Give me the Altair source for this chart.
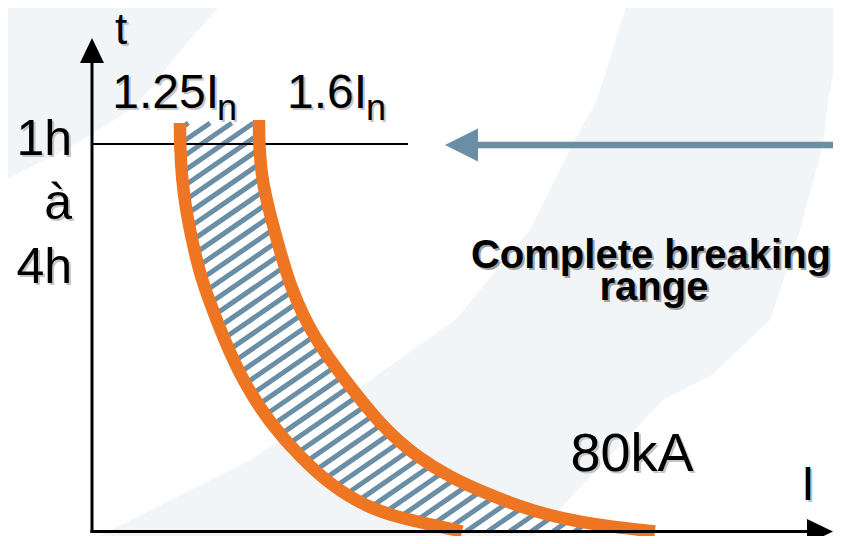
import altair as alt
import numpy as np
import pandas as pd

# ---------------- data (schematic units: x = current, y = time, origin at axes corner) ----
# 1.25 In characteristic (top -> bottom)
left_x = [88, 88, 90, 94, 100, 107, 114, 132, 153, 178, 208, 241, 275, 308, 341, 370]
left_y = [408.5, 387.5, 351.5, 321.5, 291.5, 261.5, 239.5, 191.5, 146.5, 108.5, 74.5, 44.5, 24.5, 13.5, 6.5, 0]
# 1.6 In characteristic
right_x = [167, 167, 170, 177, 185, 199, 223, 253, 291, 325, 358, 391, 421, 455, 488, 521, 563]
right_y = [411.5, 387.5, 351.5, 321.5, 291.5, 241.5, 191.5, 151.5, 103.5, 74.5, 54.5, 39.5, 27.5, 16.5, 9.5, 4.5, 0]

band_top = 408.5          # flat top of the hatched band
one_hour_y = 387.5        # level of the "1h" line
one_hour_x_end = 316

# decorative background swoosh: left edge (x, y) and right edge (x, y), bottom -> top
swoosh_lx = [-9, 158, 251, 285, 363, 438, 480, 505, 536]
swoosh_ly = [-12.5, 71.5, 131.5, 156.5, 211.5, 301.5, 386.5, 431.5, 531.5]
swoosh_rx = [435, 514, 571, 620, 678, 708, 731, 736, 756]
swoosh_ry = [-12.5, 71.5, 131.5, 156.5, 211.5, 301.5, 386.5, 431.5, 531.5]
# decorative top-left disc edge
disc_x = [-100, -92, -47, -2, 48, 95, 133, 140]
disc_y = [340, 346.5, 371.5, 396.5, 431.5, 488.5, 531.5, 540]

ORANGE = "#ee7622"
STEEL = "#6b8ea7"
LIGHT = "#f2f5f8"
FONT = "Liberation Sans"

xs = alt.Scale(domain=[-84, 741], nice=False, zero=False)
ys = alt.Scale(domain=[-4.5, 523.5], nice=False, zero=False)


def X(f="x"):
    return alt.X(f"{f}:Q", scale=xs, axis=None)


def Y(f="y"):
    return alt.Y(f"{f}:Q", scale=ys, axis=None)


# ---------------- background ----------------
xg = np.linspace(-9, 756, 600)
sw = pd.DataFrame({"x": xg,
                   "y": np.interp(xg, swoosh_rx, swoosh_ry),
                   "y2": np.interp(xg, swoosh_lx, swoosh_ly)})
swoosh = alt.Chart(sw).mark_area(color=LIGHT).encode(x=X(), y=Y(), y2=alt.Y2("y2:Q"))

dk = pd.DataFrame({"x": disc_x, "y": disc_y, "y2": [560] * len(disc_x)})
disc = alt.Chart(dk).mark_area(color=LIGHT, interpolate="monotone").encode(
    x=X(), y=Y(), y2=alt.Y2("y2:Q"))

# ---------------- band between the curves (white under the hatch) ----------------
bx = np.linspace(min(left_x), max(right_x), 700)
lower = np.clip(np.interp(bx, left_x, left_y), 0, band_top)
upper = np.minimum(np.interp(bx, right_x, right_y), band_top)
fill = pd.DataFrame({"x": bx, "y": lower, "y2": np.maximum(upper, lower)})
band = alt.Chart(fill).mark_area(color="white").encode(x=X(), y=Y(), y2=alt.Y2("y2:Q"))

# hatch stripes clipped to the band
ly = np.array(left_y[::-1], float); lx = np.array(left_x[::-1], float)
ry = np.array(right_y[::-1], float); rx = np.array(right_x[::-1], float)
m, sp, c0 = 0.69, 15.0, 177.0
yg = np.linspace(0, band_top, 4000)
gL = yg - m * np.interp(yg, ly, lx)
gR = yg - m * np.interp(yg, ry, rx)
rows = []
k0 = int(np.floor((gR.min() - c0) / sp)) - 1
k1 = int(np.ceil((gL.max() - c0) / sp)) + 1
for k in range(k0, k1 + 1):
    c = c0 + k * sp
    ya = float(np.interp(c, gL, yg))
    yb = float(np.interp(c, gR, yg))
    if yb - ya > 0.5:
        rows.append({"x": (ya - c) / m, "y": ya, "x2": (yb - c) / m, "y2": yb})
hatch = alt.Chart(pd.DataFrame(rows)).mark_rule(color=STEEL, strokeWidth=5, strokeCap="butt").encode(
    x=X(), y=Y(), x2=alt.X2("x2:Q"), y2=alt.Y2("y2:Q"))

# ---------------- 1h line ----------------
hl = pd.DataFrame({"x": [0], "x2": [one_hour_x_end], "y": [one_hour_y]})
hour_line = alt.Chart(hl).mark_rule(color="black", strokeWidth=2).encode(
    x=X(), x2=alt.X2("x2:Q"), y=Y())

# ---------------- curves ----------------
curves = pd.concat([
    pd.DataFrame({"x": left_x, "y": left_y, "curve": "1.25In", "i": range(len(left_x))}),
    pd.DataFrame({"x": right_x, "y": right_y, "curve": "1.6In", "i": range(len(right_x))}),
])
curve_lines = alt.Chart(curves).mark_line(color=ORANGE, strokeWidth=12.5, strokeCap="butt",
                                          interpolate="basis").encode(
    x=X(), y=Y(), detail="curve:N", order="i:Q")

# ---------------- axes ----------------
ax = pd.DataFrame({"x": [-1.5, 0], "y": [0, -1.5], "x2": [718, 0], "y2": [0, 472]})
axes = alt.Chart(ax).mark_rule(color="black", strokeWidth=3).encode(
    x=X(), y=Y(), x2=alt.X2("x2:Q"), y2=alt.Y2("y2:Q"))

heads = pd.DataFrame({"x": [0], "y": [481]})
yhead = alt.Chart(heads).mark_point(shape="M0,-1L0.96,1L-0.96,1Z", filled=True, size=625,
                                    color="black", opacity=1, strokeWidth=0).encode(x=X(), y=Y())
xh = pd.DataFrame({"x": [728], "y": [0]})
xhead = alt.Chart(xh).mark_point(shape="M1,0L-1,-0.96L-1,0.96Z", filled=True, size=676,
                                 color="black", opacity=1, strokeWidth=0).encode(x=X(), y=Y())

# ---------------- blue arrow ----------------
ar = pd.DataFrame({"x": [384], "x2": [760], "y": [386.5]})
arrow_line = alt.Chart(ar).mark_rule(color=STEEL, strokeWidth=6.5).encode(
    x=X(), x2=alt.X2("x2:Q"), y=Y())
ah = pd.DataFrame({"x": [369.5], "y": [386.5]})
arrow_head = alt.Chart(ah).mark_point(shape="M-1,0L1,-1L1,1Z", filled=True, size=1089,
                                      color=STEEL, opacity=1, strokeWidth=0).encode(x=X(), y=Y())


# ---------------- texts ----------------
def texts(rows, size, align="center", weight="normal", shadow="#c4c4c4", off=2):
    df = pd.DataFrame(rows, columns=["label", "x", "y"])
    base = alt.Chart(df)
    kw = dict(font=FONT, fontSize=size, fontWeight=weight, align=align, baseline="alphabetic")
    sh = base.mark_text(color=shadow, dx=off, dy=off, **kw).encode(x=X(), y=Y(), text="label:N")
    fg = base.mark_text(color="black", **kw).encode(x=X(), y=Y(), text="label:N")
    return [sh, fg]


layers = [swoosh, disc, band, hatch, hour_line, curve_lines, axes, yhead, xhead, arrow_line, arrow_head]
layers += texts([["t", 29, 487.5]], 44)
layers += texts([["1h", -20, 376.5], ["à", -20, 312.5], ["4h", -20, 248.5]], 50, align="right")
layers += texts([["1.25I", 127, 423.5], ["1.6I", 275, 423.5]], 48, align="right")
layers += texts([["n", 125, 411.5], ["n", 274, 411.5]], 36, align="left")
layers += texts([["80kA", 540, 60.5]], 54)
layers += texts([["I", 716, 31.5]], 48)
layers += texts([["Complete breaking", 559, 263.5], ["range", 562, 231.5]], 40, weight="bold",
                shadow="#a0a0a0")

chart = alt.layer(*layers).properties(
    width=825, height=528,
    autosize=alt.AutoSizeParams(type="none"),
    padding={"left": 0, "right": 0, "top": 0, "bottom": 0},
    background="white",
).configure_view(strokeWidth=0)

chart.save("out.html", embed_options={"renderer": "svg", "actions": False})
